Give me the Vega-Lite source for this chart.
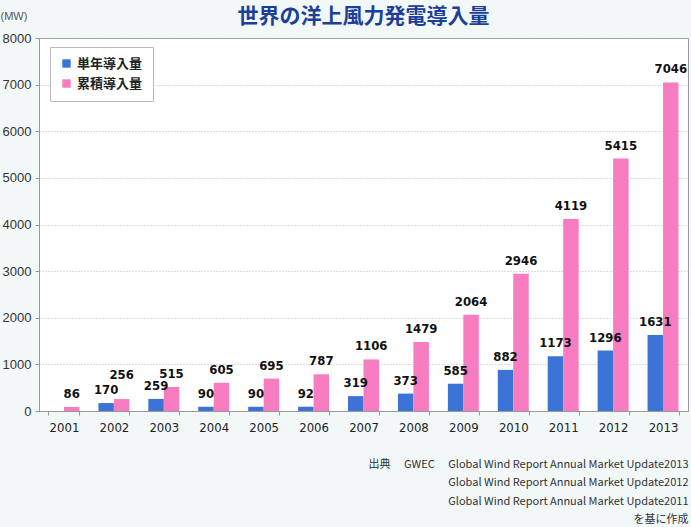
{
  "$schema": "https://vega.github.io/schema/vega-lite/v6.json",
  "autosize": "none",
  "width": 649,
  "height": 373,
  "padding": {"left": 39, "top": 38, "right": 3, "bottom": 116},
  "background": "#f2f8f8",
  "title": {
    "text": "世界の洋上風力発電導入量",
    "fontSize": 21,
    "fontWeight": "bold",
    "color": "#1c3f9c",
    "font": "Noto Sans CJK JP",
    "anchor": "middle",
    "offset": -17
  },
  "data": {
    "values": [
      {"year": "2001", "series": "累積導入量", "value": 86},
      {"year": "2002", "series": "単年導入量", "value": 170},
      {"year": "2002", "series": "累積導入量", "value": 256},
      {"year": "2003", "series": "単年導入量", "value": 259},
      {"year": "2003", "series": "累積導入量", "value": 515},
      {"year": "2004", "series": "単年導入量", "value": 90},
      {"year": "2004", "series": "累積導入量", "value": 605},
      {"year": "2005", "series": "単年導入量", "value": 90},
      {"year": "2005", "series": "累積導入量", "value": 695},
      {"year": "2006", "series": "単年導入量", "value": 92},
      {"year": "2006", "series": "累積導入量", "value": 787},
      {"year": "2007", "series": "単年導入量", "value": 319},
      {"year": "2007", "series": "累積導入量", "value": 1106},
      {"year": "2008", "series": "単年導入量", "value": 373},
      {"year": "2008", "series": "累積導入量", "value": 1479},
      {"year": "2009", "series": "単年導入量", "value": 585},
      {"year": "2009", "series": "累積導入量", "value": 2064},
      {"year": "2010", "series": "単年導入量", "value": 882},
      {"year": "2010", "series": "累積導入量", "value": 2946},
      {"year": "2011", "series": "単年導入量", "value": 1173},
      {"year": "2011", "series": "累積導入量", "value": 4119},
      {"year": "2012", "series": "単年導入量", "value": 1296},
      {"year": "2012", "series": "累積導入量", "value": 5415},
      {"year": "2013", "series": "単年導入量", "value": 1631},
      {"year": "2013", "series": "累積導入量", "value": 7046}
    ]
  },
  "encoding": {
    "x": {
      "field": "year",
      "type": "nominal",
      "scale": {"paddingInner": 0.38, "paddingOuter": 0.19},
      "axis": {
        "labelAngle": 0,
        "labelFont": "DejaVu Sans Condensed, Liberation Sans Narrow, sans-serif",
        "labelFontSize": 13,
        "labelColor": "#222",
        "labelPadding": 6,
        "tickBand": "extent",
        "tickColor": "#999",
        "tickSize": 4,
        "domainColor": "#999",
        "title": [
          "出典　 GWEC　 Global Wind Report Annual Market Update2013",
          "Global Wind Report Annual Market Update2012",
          "Global Wind Report Annual Market Update2011",
          "を基に作成"
        ],
        "titleFont": "Noto Sans CJK JP",
        "titleFontSize": 11,
        "titleFontWeight": "normal",
        "titleColor": "#333",
        "titleLineHeight": 18.5,
        "titleAlign": "right",
        "titleAnchor": "end",
        "titleX": 649,
        "titleY": 47,
        "titleBaseline": "top"
      }
    },
    "xOffset": {
      "field": "series",
      "type": "nominal",
      "sort": ["単年導入量", "累積導入量"],
      "scale": {"domain": ["単年導入量", "累積導入量"], "paddingInner": 0, "paddingOuter": 0}
    },
    "y": {
      "field": "value",
      "type": "quantitative",
      "scale": {"domain": [0, 8000]},
      "axis": {
        "values": [0, 1000, 2000, 3000, 4000, 5000, 6000, 7000, 8000],
        "format": "d",
        "labelFont": "Liberation Sans",
        "labelFontSize": 13,
        "labelColor": "#333",
        "labelPadding": 4,
        "tickColor": "#999",
        "tickSize": 4,
        "domainColor": "#999",
        "grid": true,
        "gridColor": "#bbb",
        "gridDash": [1, 2],
        "title": "(MW)",
        "titleAngle": 0,
        "titleFont": "Liberation Sans",
        "titleFontSize": 11,
        "titleFontWeight": "normal",
        "titleColor": "#555",
        "titleAlign": "left",
        "titleBaseline": "middle",
        "titleX": -39,
        "titleY": -22
      }
    }
  },
  "layer": [
    {
      "mark": {"type": "bar"},
      "encoding": {
        "color": {
          "field": "series",
          "type": "nominal",
          "scale": {"domain": ["単年導入量", "累積導入量"], "range": ["#3b73d6", "#f77cc0"]},
          "legend": {
            "title": null,
            "orient": "none",
            "legendX": 11,
            "legendY": 9,
            "direction": "vertical",
            "symbolType": "square",
            "symbolSize": 70,
            "symbolStrokeWidth": 0,
            "labelFont": "Noto Sans CJK JP",
            "labelFontSize": 13,
            "labelFontWeight": "bold",
            "labelColor": "#222",
            "rowPadding": 6,
            "padding": 10,
            "fillColor": "white",
            "strokeColor": "#bbb"
          }
        }
      }
    },
    {
      "transform": [{"filter": "!(datum.year == '2002' && datum.series == '累積導入量')"}],
      "mark": {
        "type": "text",
        "baseline": "bottom",
        "dy": -6,
        "font": "DejaVu Sans Condensed, Liberation Sans Narrow, sans-serif",
        "fontSize": 13,
        "fontWeight": "bold",
        "color": "#111"
      },
      "encoding": {
        "text": {"field": "value", "type": "quantitative", "format": "d"}
      }
    },
    {
      "transform": [{"filter": "datum.year == '2002' && datum.series == '累積導入量'"}],
      "mark": {
        "type": "text",
        "baseline": "bottom",
        "dy": -17,
        "font": "DejaVu Sans Condensed, Liberation Sans Narrow, sans-serif",
        "fontSize": 13,
        "fontWeight": "bold",
        "color": "#111"
      },
      "encoding": {
        "text": {"field": "value", "type": "quantitative", "format": "d"}
      }
    }
  ],
  "config": {
    "view": {"stroke": "#999", "fill": "white"}
  }
}
